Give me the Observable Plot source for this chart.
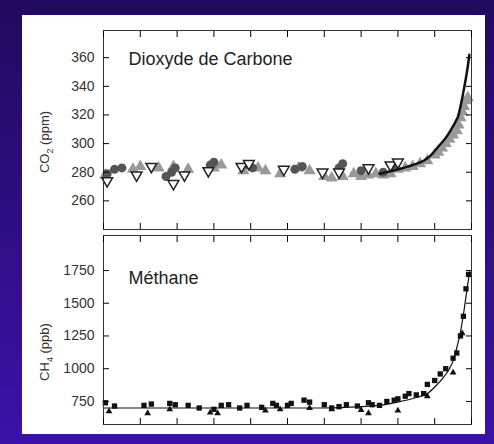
<!DOCTYPE html>
<html><head><meta charset="utf-8">
<script src="https://cdn.jsdelivr.net/npm/d3@7"></script>
<script src="https://cdn.jsdelivr.net/npm/@observablehq/plot@0.6"></script>
<style>
body{margin:0;width:494px;height:444px;background:linear-gradient(#220a5e,#3a12a8);font-family:"Liberation Sans",Arial,sans-serif;overflow:hidden}
#panel{position:absolute;left:22px;top:15px;width:463px;height:419px;background:#fff}
#top,#bot{position:absolute;left:0}
#top{top:0}#bot{top:219px}
svg{overflow:visible}
</style></head><body>
<div id="panel"><div id="top"></div><div id="bot"></div></div>
<script>
// CO2 (ppm) — dark circles, grey triangles, open inverted triangles, black line
const co2CircYear=[1010,1030,1050,1170,1185,1195,1290,1300,1395,1405,1520,1540,1640,1650,1700,1760,1790];
const co2CircVal=[279,282,283,277,280,283,285,287,285,283,282,284,283,286,281,280,284];
const co2TriYear=[1005,1080,1100,1150,1190,1230,1300,1320,1380,1420,1440,1480,1530,1560,1600,1620,1650,1680,1700,1720,1740,1760,1780,1800,1820,1840,1860,1880,1900,1910,1920,1930,1940,1950,1960,1965,1970,1975,1980,1985,1990];
const co2TriVal=[278,282,284,283,284,282,283,285,281,283,281,279,283,281,277,276,277,279,277,278,279,278,279,282,283,284,286,288,292,294,297,300,303,306,309,313,318,322,326,330,332];
const co2OpenYear=[1010,1090,1130,1190,1220,1285,1375,1395,1490,1595,1640,1720,1780,1800];
const co2OpenVal=[274,278,284,272,278,281,284,286,282,280,280,283,285,287];
const co2LineYear=[1750,1800,1840,1870,1890,1910,1930,1945,1958,1965,1970,1975,1980,1985,1990,1994];
const co2LineVal=[279,282,285,288,292,298,304,310,316,320,326,332,339,346,354,362];
// CH4 (ppb)
const ch4SqYear=[1005,1030,1110,1130,1180,1195,1230,1260,1300,1320,1340,1370,1390,1430,1460,1470,1500,1510,1545,1560,1600,1620,1640,1660,1690,1720,1730,1750,1770,1790,1800,1820,1830,1850,1870,1880,1900,1915,1930,1950,1960,1970,1978,1985,1992];
const ch4SqVal=[740,715,720,730,735,725,720,700,690,720,725,700,720,705,735,720,720,735,760,745,725,700,710,725,715,740,725,720,750,760,770,790,810,800,810,880,910,960,1000,1080,1120,1250,1400,1610,1720];
const ch4TriYear=[1015,1120,1180,1290,1310,1440,1480,1560,1620,1700,1720,1800,1880,1950,1975];
const ch4TriVal=[675,660,690,665,660,680,690,700,690,685,660,680,790,970,1270];
const ch4LineYear=[1000,1100,1200,1300,1400,1500,1550,1600,1700,1750,1800,1850,1880,1900,1920,1940,1950,1960,1970,1980,1990,1995];
const ch4LineVal=[700,700,700,700,700,700,700,700,710,720,745,780,810,860,920,1000,1060,1160,1280,1450,1650,1740];

const xDom=[1000,2000];
const W=463;
function frameAxes(yTicks){
  return [
    Plot.frame({stroke:"#333"}),
    Plot.axisY({ticks:yTicks,tickSize:-6,tickFormat:d3.format("d"),fontSize:14,label:null,fill:"#333"}),
    Plot.axisY({ticks:yTicks,anchor:"right",tickSize:-6,tickFormat:()=>"",label:null}),
    Plot.axisX({anchor:"top",ticks:d3.range(1000,2001,100),tickSize:-6,tickFormat:()=>"",label:null}),
    Plot.axisX({anchor:"bottom",ticks:d3.range(1000,2001,100),tickSize:-6,tickFormat:()=>"",label:null})
  ];
}
const pt=(xs,ys)=>xs.map((x,i)=>({x,y:ys[i]}));

const p1=Plot.plot({width:W,height:219,marginLeft:81,marginRight:14,marginTop:15,marginBottom:5,
  x:{domain:xDom},y:{domain:[240,379]},style:{fontFamily:"Liberation Sans, Arial, sans-serif"},
  marks:[
    Plot.dot(pt(co2TriYear,co2TriVal),{x:"x",y:"y",symbol:"triangle",r:4.5,fill:"#999"}),
    Plot.dot(pt(co2CircYear,co2CircVal),{x:"x",y:"y",r:4.5,fill:"#555"}),
    Plot.dot(pt(co2OpenYear,co2OpenVal),{x:"x",y:"y",symbol:"triangle",r:4,fill:"#fff",stroke:"#222",rotate:180}),
    Plot.line(pt(co2LineYear,co2LineVal),{x:"x",y:"y",stroke:"#111",strokeWidth:2.5,curve:"monotone-x"}),
    ...frameAxes([260,280,300,320,340,360]),
    Plot.text(["Dioxyde de Carbone"],{frameAnchor:"top-left",dx:25,dy:22,fontSize:18,fill:"#222",textAnchor:"start"})
  ]});
const p2=Plot.plot({width:W,height:200,marginLeft:81,marginRight:14,marginTop:1,marginBottom:10,
  x:{domain:xDom},y:{domain:[574,2017]},style:{fontFamily:"Liberation Sans, Arial, sans-serif"},
  marks:[
    Plot.line(pt(ch4LineYear,ch4LineVal),{x:"x",y:"y",stroke:"#111",strokeWidth:1.2,curve:"monotone-x"}),
    Plot.dot(pt(ch4SqYear,ch4SqVal),{x:"x",y:"y",symbol:"square",r:3,fill:"#111"}),
    Plot.dot(pt(ch4TriYear,ch4TriVal),{x:"x",y:"y",symbol:"triangle",r:2.5,fill:"#111"}),
    ...frameAxes([750,1000,1250,1500,1750]),
    Plot.text(["Méthane"],{frameAnchor:"top-left",dx:25,dy:36,fontSize:18,fill:"#222",textAnchor:"start"})
  ]});
document.getElementById("top").append(p1);
document.getElementById("bot").append(p2);
function ylab(svg,main,sub,rest,cy){
  const t=d3.select(svg).append("text").attr("transform",`translate(27,${cy}) rotate(-90)`)
    .attr("text-anchor","middle").attr("font-size",13).attr("fill","#333");
  t.append("tspan").text(main);
  t.append("tspan").attr("dy",4).attr("font-size",9).text(sub);
  t.append("tspan").attr("dy",-4).text(rest);
}
ylab(p1,"CO","2"," (ppm)",127);
ylab(p2,"CH","4"," (ppb)",118);
</script></body></html>
